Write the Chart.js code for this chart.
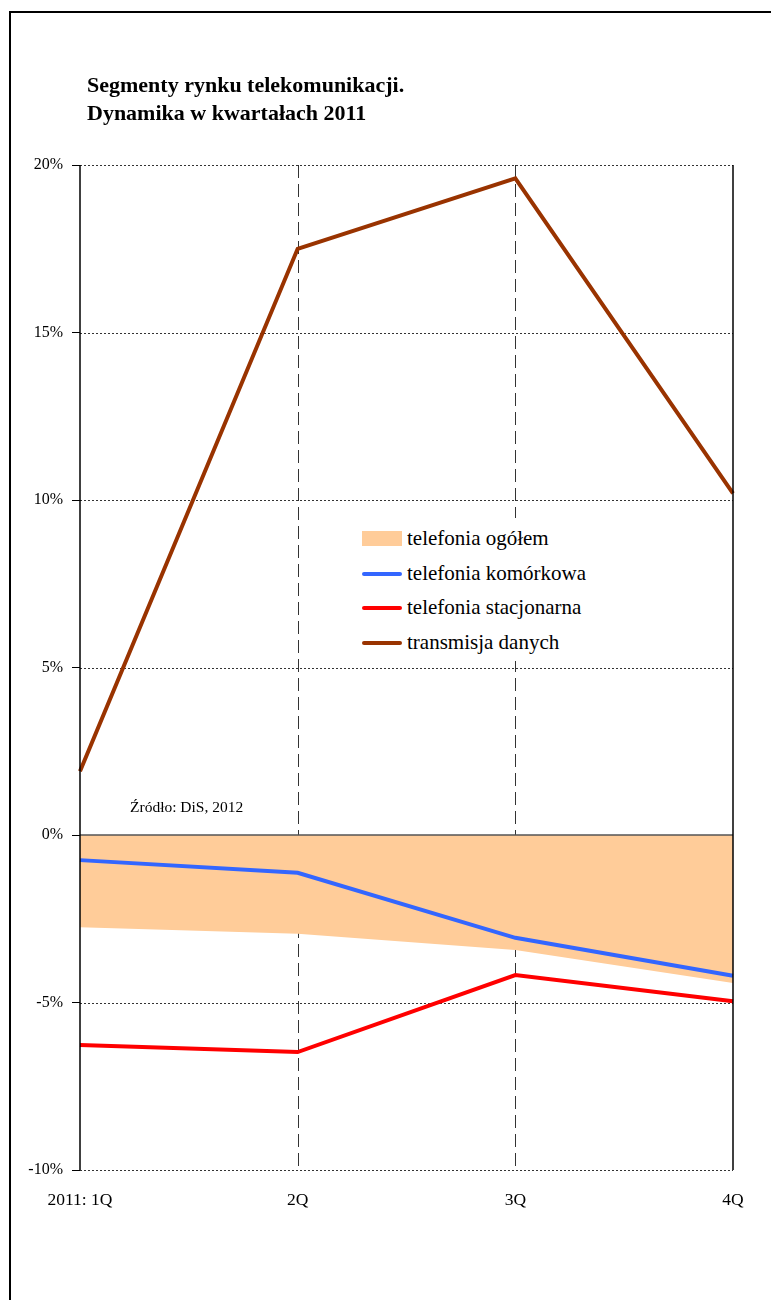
<!DOCTYPE html>
<html>
<head>
<meta charset="utf-8">
<script src="https://cdn.jsdelivr.net/npm/chart.js@4"></script>
<style>
  html, body { margin: 0; padding: 0; background: #fff; }
  #wrap { position: relative; width: 771px; height: 1300px; overflow: hidden; }
  #frame { position: absolute; left: 9px; top: 11px; width: 800px; height: 1400px;
           border-left: 2px solid #000; border-top: 2px solid #000; }
  #title { position: absolute; left: 87px; top: 71px; font-family: "Liberation Serif", serif;
           font-weight: bold; font-size: 22px; line-height: 28px; letter-spacing: 0px; color: #000; }
  canvas { position: absolute; left: 0; top: 0; }
  #legendBox { position: absolute; left: 355px; top: 518px; width: 245px; height: 143px; background: #fff; }
  .lg { position: absolute; left: 362px; font-family: "Liberation Serif", serif; font-size: 21px; color: #000; }
  .lg span.sw { position: absolute; left: 0; width: 40px; }
  .lg span.tx { position: absolute; left: 45px; white-space: nowrap; line-height: 22px; top: -12px; }
  #src { position: absolute; left: 130px; top: 798px; font-family: "Liberation Serif", serif; font-size: 15.5px; color: #000; }
</style>
</head>
<body>
<div id="wrap">
  <div id="frame"></div>
  <canvas id="c" width="771" height="1300"></canvas>
  <div id="title">Segmenty rynku telekomunikacji.<br>Dynamika w kwartałach 2011</div>
  <div id="legendBox"></div>
  <div id="legend"></div>
  <div id="src">Źródło: DiS, 2012</div>
</div>
<script>
const categories = ["2011: 1Q", "2Q", "3Q", "4Q"];
const telefoniaOgolem = [-2.75, -2.95, -3.43, -4.42];
const telefoniaKomorkowa = [-0.75, -1.13, -3.07, -4.2];
const telefoniaStacjonarna = [-6.27, -6.48, -4.18, -4.96];
const transmisjaDanych = [1.9, 17.5, 19.6, 10.2];
const seriesNames = ["telefonia ogółem", "telefonia komórkowa", "telefonia stacjonarna", "transmisja danych"];
const yTicks = { min: -10, max: 20, step: 5 };

const colors = { area: "#FFCC99", blue: "#3366FF", red: "#FF0000", brown: "#993300" };

// HTML legend
const legendItems = [
  { name: seriesNames[0], color: colors.area, type: "box", y: 539 },
  { name: seriesNames[1], color: colors.blue, type: "line", y: 574 },
  { name: seriesNames[2], color: colors.red, type: "line", y: 608 },
  { name: seriesNames[3], color: colors.brown, type: "line", y: 643 }
];
const lg = document.getElementById("legend");
legendItems.forEach(it => {
  const d = document.createElement("div");
  d.className = "lg";
  d.style.top = it.y + "px";
  const sw = document.createElement("span");
  sw.className = "sw";
  sw.style.background = it.color;
  if (it.type === "box") { sw.style.height = "15px"; sw.style.top = "-8px"; }
  else { sw.style.height = "4px"; sw.style.top = "-2px"; sw.style.borderRadius = "2px"; }
  const tx = document.createElement("span");
  tx.className = "tx";
  tx.textContent = it.name;
  d.appendChild(sw); d.appendChild(tx);
  lg.appendChild(d);
});

const gridPlugin = {
  id: "customGrid",
  beforeDatasetsDraw(chart) {
    const { ctx, chartArea: a, scales: { x, y } } = chart;
    ctx.save();
    ctx.strokeStyle = "#333";
    ctx.lineWidth = 1;
    ctx.setLineDash([2, 2]);
    y.ticks.forEach(t => {
      if (t.value === 0) return;
      const py = Math.round(y.getPixelForValue(t.value)) + 0.5;
      ctx.beginPath(); ctx.moveTo(a.left, py); ctx.lineTo(a.right, py); ctx.stroke();
    });
    ctx.strokeStyle = "#333";
    ctx.setLineDash([13, 6]);
    for (let i = 1; i < categories.length - 1; i++) {
      const px = Math.round(x.getPixelForValue(i)) + 0.5;
      ctx.beginPath(); ctx.moveTo(px, a.top); ctx.lineTo(px, a.bottom); ctx.stroke();
    }
    ctx.restore();
  },
  afterDatasetsDraw(chart) {
    const { ctx, chartArea: a, scales: { x, y } } = chart;
    ctx.save();
    ctx.setLineDash([]);
    ctx.strokeStyle = "#555";
    ctx.lineWidth = 1.5;
    const py0 = y.getPixelForValue(0);
    ctx.beginPath(); ctx.moveTo(a.left, py0); ctx.lineTo(a.right, py0); ctx.stroke();
    ctx.strokeStyle = "#000";
    ctx.lineWidth = 1.5;
    ctx.beginPath(); ctx.moveTo(a.left, a.top); ctx.lineTo(a.left, a.bottom); ctx.stroke();
    ctx.beginPath(); ctx.moveTo(a.right, a.top); ctx.lineTo(a.right, a.bottom); ctx.stroke();
    ctx.restore();
  }
};

new Chart(document.getElementById("c"), {
  type: "line",
  data: {
    labels: categories,
    datasets: [
      { label: seriesNames[3], data: transmisjaDanych, borderColor: colors.brown, borderWidth: 4, pointRadius: 0, fill: false, order: 1 },
      { label: seriesNames[2], data: telefoniaStacjonarna, borderColor: colors.red, borderWidth: 4, pointRadius: 0, fill: false, order: 2 },
      { label: seriesNames[1], data: telefoniaKomorkowa, borderColor: colors.blue, borderWidth: 4, pointRadius: 0, fill: false, order: 3 },
      { label: seriesNames[0], data: telefoniaOgolem, borderColor: colors.area, backgroundColor: colors.area, borderWidth: 0, pointRadius: 0, fill: "origin", order: 10 }
    ]
  },
  options: {
    responsive: false,
    animation: false,
    devicePixelRatio: 1,
    layout: { padding: { top: 165, right: 38, bottom: 90, left: 0 } },
    plugins: { legend: { display: false }, tooltip: { enabled: false } },
    scales: {
      x: {
        type: "category",
        offset: false,
        grid: { display: false },
        border: { display: false },
        ticks: { color: "#000", font: { family: "Liberation Serif", size: 17.5 }, padding: 12, maxRotation: 0, autoSkip: false },
        afterFit(s) { s.height = 40; }
      },
      y: {
        min: yTicks.min, max: yTicks.max,
        grid: { drawOnChartArea: false, drawTicks: true, tickLength: 8, color: "#000", lineWidth: 1 },
        border: { display: false },
        ticks: { stepSize: yTicks.step, color: "#000", padding: 9, font: { family: "Liberation Serif", size: 16 },
                 callback: v => v + "%" },
        afterFit(s) { s.width = 80; }
      }
    }
  },
  plugins: [gridPlugin]
});
</script>
</body>
</html>
